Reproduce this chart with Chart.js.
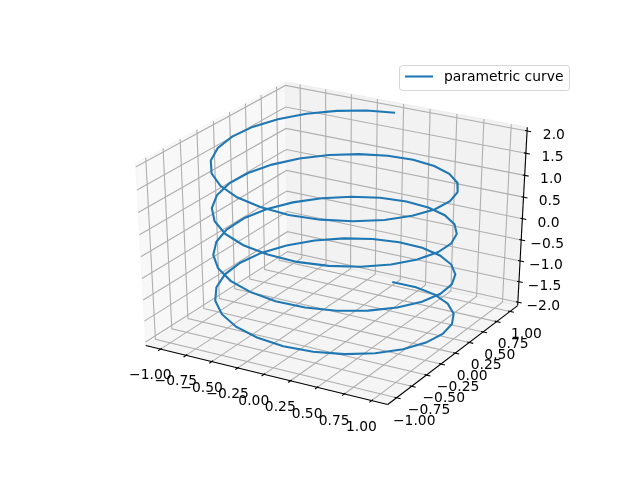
<!DOCTYPE html>
<html>
<head>
<meta charset="utf-8">
<title>parametric curve</title>
<script src="https://cdn.jsdelivr.net/npm/chart.js@4"></script>
<style>
  html, body { margin: 0; padding: 0; background: #fff; }
  canvas { display: block; }
</style>
</head>
<body>
<canvas id="curve-chart" width="640" height="480"></canvas>
<script>
const seriesName = 'parametric curve';

const curveX = [0,.251,.486,.690,.850,.955,.999,.979,.896,.756,.567,.342,.095,-.158,-.401,-.618,-.796,-.922,-.990,-.994,
  -.934,-.815,-.643,-.430,-.189,.063,.312,.541,.735,.881,.972,1,.964,.866,.713,.514,.282,.032,-.220,-.458,
  -.667,-.833,-.945,-.997,-.985,-.910,-.776,-.593,-.372,-.127,.127,.372,.593,.776,.910,.985,.997,.945,.833,.667,
  .458,.220,-.032,-.282,-.514,-.713,-.866,-.964,-1,-.972,-.881,-.735,-.541,-.312,-.063,.189,.430,.643,.815,.934,
  .994,.990,.922,.796,.618,.401,.158,-.095,-.342,-.567,-.756,-.896,-.979,-.999,-.955,-.850,-.690,-.486,-.251,0];
const curveY = [1,.968,.874,.724,.527,.297,.048,-.205,-.444,-.655,-.824,-.940,-.995,-.987,-.916,-.786,-.605,-.386,-.142,.111,
  .357,.580,.766,.903,.982,.998,.950,.841,.678,.472,.236,-.016,-.266,-.5,-.701,-.858,-.960,-.999,-.975,-.889,
  -.745,-.554,-.327,-.079,.174,.415,.631,.805,.928,.992,.992,.928,.805,.631,.415,.174,-.079,-.327,-.554,-.745,
  -.889,-.975,-.999,-.960,-.858,-.701,-.5,-.266,-.016,.236,.472,.678,.841,.950,.998,.982,.903,.766,.580,.357,
  .111,-.142,-.386,-.605,-.786,-.916,-.987,-.995,-.940,-.824,-.655,-.444,-.205,.048,.297,.527,.724,.874,.968,1];
const curveZ = [-2,-1.96,-1.92,-1.88,-1.84,-1.80,-1.76,-1.72,-1.68,-1.64,-1.60,-1.56,-1.52,-1.47,-1.43,-1.39,-1.35,-1.31,-1.27,-1.23,
  -1.19,-1.15,-1.11,-1.07,-1.03,-.99,-.95,-.91,-.87,-.83,-.79,-.75,-.71,-.67,-.63,-.59,-.55,-.51,-.46,-.42,
  -.38,-.34,-.30,-.26,-.22,-.18,-.14,-.10,-.06,-.02,.02,.06,.10,.14,.18,.22,.26,.30,.34,.38,
  .42,.46,.51,.55,.59,.63,.67,.71,.75,.79,.83,.87,.91,.95,.99,1.03,1.07,1.11,1.15,1.19,
  1.23,1.27,1.31,1.35,1.39,1.43,1.47,1.52,1.56,1.60,1.64,1.68,1.72,1.76,1.80,1.84,1.88,1.92,1.96,2];

const xTicks = [-1, -0.75, -0.5, -0.25, 0, 0.25, 0.5, 0.75, 1];
const yTicks = [-1, -0.75, -0.5, -0.25, 0, 0.25, 0.5, 0.75, 1];
const zTicks = [-2, -1.5, -1, -0.5, 0, 0.5, 1, 1.5, 2];
const xTickLabels = ['\u22121.00', '\u22120.75', '\u22120.50', '\u22120.25', '0.00', '0.25', '0.50', '0.75', '1.00'];
const yTickLabels = ['\u22121.00', '\u22120.75', '\u22120.50', '\u22120.25', '0.00', '0.25', '0.50', '0.75', '1.00'];
const zTickLabels = ['\u22122.0', '\u22121.5', '\u22121.0', '\u22120.5', '0.0', '0.5', '1.0', '1.5', '2.0'];

const xLim = [-1.1, 1.1];
const yLim = [-1.1, 1.1];
const zLim = [-2, 2];

// View of the 3D box: same camera as a default mplot3d axes
const ELEV = 30 * Math.PI / 180;
const AZIM = -60 * Math.PI / 180;
const DIST = 10;

const FONT = '13.89px "DejaVu Sans"';
const LINE_BLACK = 1.11;
const LABEL_DROP = 7;

function cross(a, b) {
    return [a[1] * b[2] - a[2] * b[1], a[2] * b[0] - a[0] * b[2], a[0] * b[1] - a[1] * b[0]];
}

function dot(a, b) {
    return a[0] * b[0] + a[1] * b[1] + a[2] * b[2];
}

function unit(a) {
    const len = Math.sqrt(dot(a, a));
    return a.map(v => v / len);
}

const viewN = [Math.cos(AZIM) * Math.cos(ELEV), Math.sin(AZIM) * Math.cos(ELEV), Math.sin(ELEV)];
const viewE = viewN.map(v => 0.5 + DIST * v);
const viewU = unit(cross([0, 0, 1], viewN));
const viewV = cross(viewN, viewU);

/**
 * Project a data point to the 2D plane the Chart.js scales work in
 */
function project(x, y, z) {
    const p = [
        (x - xLim[0]) / (xLim[1] - xLim[0]) - viewE[0],
        (y - yLim[0]) / (yLim[1] - yLim[0]) - viewE[1],
        (z - zLim[0]) / (zLim[1] - zLim[0]) - viewE[2]
    ];
    const w = -dot(viewN, p);
    return { x: dot(viewU, p) / w, y: dot(viewV, p) / w };
}

const deltaX = (xLim[1] - xLim[0]) / 12;
const deltaY = (yLim[1] - yLim[0]) / 12;
const deltaZ = (zLim[1] - zLim[0]) / 12;

// Panes are a little bigger than the limits
const x0 = xLim[0] - deltaX / 4, x1 = xLim[1] + deltaX / 4;
const y0 = yLim[0] - deltaY / 4, y1 = yLim[1] + deltaY / 4;
const z0 = zLim[0] - deltaZ / 4, z1 = zLim[1] + deltaZ / 4;

const labelOffset = 11.5 * 48 / 623.2;

function lineSet(points, color, width) {
    return {
        data: points,
        showLine: true,
        borderColor: color,
        borderWidth: width,
        pointRadius: 0,
        tension: 0,
        clip: false,
        fill: false
    };
}

function paneSet(corners, color) {
    const set = lineSet(corners.concat([corners[0]]), color, 1);
    set.fill = 'shape';
    set.backgroundColor = color;
    return set;
}

function buildDatasets() {
    const curve = lineSet(curveX.map((x, i) => project(x, curveY[i], curveZ[i])), '#1f77b4', 2.08);
    curve.label = seriesName;
    curve.borderCapStyle = 'butt';

    const sets = [curve];

    // Axis lines
    sets.push(lineSet([project(x0, y0, z0), project(x1, y0, z0)], '#000', LINE_BLACK));
    sets.push(lineSet([project(x1, y1, z0), project(x1, y0, z0)], '#000', LINE_BLACK));
    sets.push(lineSet([project(x1, y1, z0), project(x1, y1, z1)], '#000', LINE_BLACK));

    // Tick marks
    xTicks.forEach(t => {
        sets.push(lineSet([project(t, y0 + 0.1 * deltaY, z0), project(t, y0 - 0.2 * deltaY, z0)], '#000', LINE_BLACK));
    });
    yTicks.forEach(t => {
        sets.push(lineSet([project(x1 - 0.1 * deltaX, t, z0), project(x1 + 0.2 * deltaX, t, z0)], '#000', LINE_BLACK));
    });
    zTicks.forEach(t => {
        sets.push(lineSet([project(x1 - 0.1 * deltaX, y1, t), project(x1 + 0.2 * deltaX, y1, t)], '#000', LINE_BLACK));
    });

    // Grid, folded over the panes
    const grid = '#b0b0b0';
    xTicks.forEach(t => {
        sets.push(lineSet([project(t, y0, z0), project(t, y1, z0), project(t, y1, z1)], grid, LINE_BLACK));
    });
    yTicks.forEach(t => {
        sets.push(lineSet([project(x1, t, z0), project(x0, t, z0), project(x0, t, z1)], grid, LINE_BLACK));
    });
    zTicks.forEach(t => {
        sets.push(lineSet([project(x0, y0, t), project(x0, y1, t), project(x1, y1, t)], grid, LINE_BLACK));
    });

    // Panes
    sets.push(paneSet([project(x0, y0, z0), project(x0, y1, z0), project(x0, y1, z1), project(x0, y0, z1)], 'rgba(242,242,242,0.5)'));
    sets.push(paneSet([project(x0, y1, z0), project(x1, y1, z0), project(x1, y1, z1), project(x0, y1, z1)], 'rgba(230,230,230,0.5)'));
    sets.push(paneSet([project(x0, y0, z0), project(x1, y0, z0), project(x1, y1, z0), project(x0, y1, z0)], 'rgba(236,236,236,0.5)'));

    return sets;
}

function labelPositions() {
    const items = [];
    xTicks.forEach((t, i) => {
        items.push({ p: project(t, y0 - labelOffset * deltaY, z0 - labelOffset * deltaZ), text: xTickLabels[i] });
    });
    yTicks.forEach((t, i) => {
        items.push({ p: project(x1 + labelOffset * deltaX, t, z0 - labelOffset * deltaZ), text: yTickLabels[i] });
    });
    zTicks.forEach((t, i) => {
        items.push({ p: project(x1 + labelOffset * deltaX, y1 + labelOffset * deltaY, t), text: zTickLabels[i] });
    });
    return items;
}

const tickLabelPlugin = {
    id: 'tickLabels',
    afterDraw(chart) {
        const ctx = chart.ctx;
        ctx.save();
        ctx.font = FONT;
        ctx.fillStyle = '#000';
        ctx.textAlign = 'center';
        ctx.textBaseline = 'middle';
        labelPositions().forEach(item => {
            const px = chart.scales.x.getPixelForValue(item.p.x);
            const py = chart.scales.y.getPixelForValue(item.p.y);
            ctx.fillText(item.text, px, py + LABEL_DROP);
        });
        ctx.restore();
    }
};

const legendBoxPlugin = {
    id: 'legendBox',
    afterDraw(chart) {
        const ctx = chart.ctx;
        ctx.save();
        ctx.beginPath();
        ctx.roundRect(399.5, 65.5, 170, 25, 3);
        ctx.fillStyle = 'rgba(255,255,255,0.8)';
        ctx.fill();
        ctx.lineWidth = 1;
        ctx.strokeStyle = 'rgba(204,204,204,0.8)';
        ctx.stroke();

        ctx.beginPath();
        ctx.moveTo(405, 76.5);
        ctx.lineTo(433, 76.5);
        ctx.lineWidth = 2.08;
        ctx.strokeStyle = '#1f77b4';
        ctx.stroke();

        ctx.font = FONT;
        ctx.fillStyle = '#000';
        ctx.textAlign = 'left';
        ctx.textBaseline = 'alphabetic';
        ctx.fillText(seriesName, 444, 81);
        ctx.restore();
    }
};

new Chart(document.getElementById('curve-chart').getContext('2d'), {
    type: 'scatter',
    data: { datasets: buildDatasets() },
    plugins: [tickLabelPlugin, legendBoxPlugin],
    options: {
        responsive: false,
        animation: false,
        layout: { padding: { left: 80, right: 64, top: 57.6, bottom: 52.8 } },
        plugins: {
            legend: { display: false },
            tooltip: { enabled: false }
        },
        scales: {
            x: { type: 'linear', display: false, min: -0.095, max: 0.09 },
            y: { type: 'linear', display: false, min: -0.095, max: 0.09 }
        }
    }
});
</script>
</body>
</html>
